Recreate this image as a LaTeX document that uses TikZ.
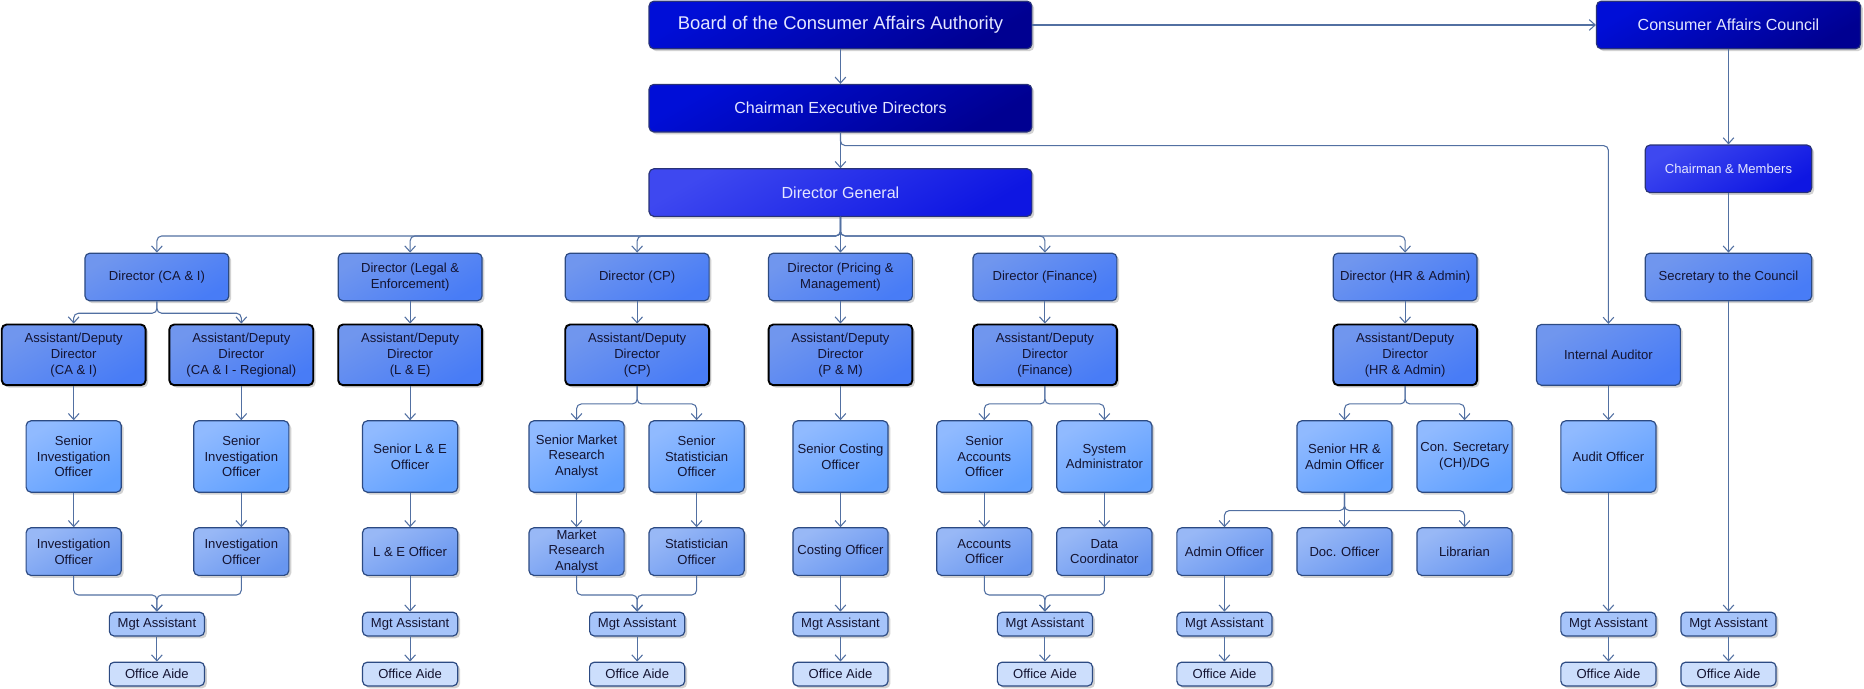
\documentclass[tikz,border=0pt]{standalone}
\usepackage{fontspec}
\setmainfont{Liberation Sans}
\usetikzlibrary{arrows.meta, positioning, shadows}
\definecolor{navydark}{RGB}{0,0,145}
\definecolor{navylight}{RGB}{0,14,215}
\definecolor{royaldark}{RGB}{14,22,226}
\definecolor{royallight}{RGB}{62,72,240}
\definecolor{dirdark}{RGB}{72,124,246}
\definecolor{dirlight}{RGB}{112,150,238}
\definecolor{srdark}{RGB}{96,160,255}
\definecolor{srlight}{RGB}{144,186,255}
\definecolor{offdark}{RGB}{104,150,240}
\definecolor{offlight}{RGB}{152,184,246}
\definecolor{mgtfill}{RGB}{166,196,250}
\definecolor{aidefill}{RGB}{204,222,252}
\definecolor{edge}{RGB}{44,74,130}
\definecolor{topedge}{RGB}{40,50,120}
\definecolor{wire}{RGB}{82,112,162}
\definecolor{inktext}{RGB}{20,20,50}
\definecolor{paletext}{RGB}{228,230,255}
\tikzset{
  box/.style={rectangle, rounded corners=4pt, draw=edge, line width=1pt,
              align=center, inner sep=1pt, text=inktext,
              font=\fontsize{11}{13.3}\selectfont,
              drop shadow={shadow xshift=2pt, shadow yshift=-2pt, fill=black!35, opacity=0.5}},
  headbox/.style={box, draw=topedge, text=paletext, minimum width=322pt, minimum height=40pt,
                  top color=navylight, bottom color=navydark, shading angle=30,
                  font=\fontsize{13.5}{16}\selectfont},
  royalbox/.style={box, draw=topedge, text=paletext, minimum height=40pt,
                   top color=royallight, bottom color=royaldark, shading angle=30,
                   font=\fontsize{13.5}{16}\selectfont},
  dirbox/.style={box, minimum width=121pt, minimum height=40pt,
                 top color=dirlight, bottom color=dirdark, shading angle=30},
  addbox/.style={dirbox, draw=black, line width=1.6pt, minimum height=51pt},
  seniorbox/.style={box, minimum width=80pt, minimum height=60pt,
                    top color=srlight, bottom color=srdark, shading angle=30},
  officerbox/.style={box, minimum width=80pt, minimum height=40pt,
                     top color=offlight, bottom color=offdark, shading angle=30},
  mgtbox/.style={box, minimum width=80pt, minimum height=20pt, fill=mgtfill},
  aidebox/.style={box, minimum width=80pt, minimum height=20pt, fill=aidefill},
  conn/.style={-{Straight Barb[length=5pt, width=9pt]}, draw=wire, line width=0.9pt,
               rounded corners=4pt},
}
\begin{document}
\begin{tikzpicture}[x=1pt, y=-1pt]
  \useasboundingbox (0,0) rectangle (1568,579);
  % top of the chart
  \node[headbox, font=\fontsize{15.5}{18}\selectfont] (board) at (707,21) {Board of the Consumer Affairs Authority};
  \node[headbox, minimum width=222pt] (council) at (1454,21) {Consumer Affairs Council};
  \node[headbox] (chair) at (707,91) {Chairman Executive Directors};
  \node[royalbox, minimum width=322pt] (dg) at (707,162) {Director General};
  \node[royalbox, minimum width=140pt, font=\fontsize{11}{13.3}\selectfont] (members) at (1454,142) {Chairman \& Members};
  \node[dirbox, minimum width=140pt] (secretary) at (1454,233) {Secretary to the Council};
  % directors
  \node[dirbox] (dirCAI) at (132,233) {Director (CA \& I)};
  \node[dirbox] (dirLE)  at (345,233) {Director (Legal \&\\Enforcement)};
  \node[dirbox] (dirCP)  at (536,233) {Director (CP)};
  \node[dirbox] (dirPM)  at (707,233) {Director (Pricing \&\\Management)};
  \node[dirbox] (dirFin) at (879,233) {Director (Finance)};
  \node[dirbox] (dirHR)  at (1182,233) {Director (HR \& Admin)};
  % assistant / deputy directors
  \node[addbox] (addCAI) at (62,298.5)   {Assistant/Deputy\\Director\\(CA \& I)};
  \node[addbox] (addReg) at (203,298.5)  {Assistant/Deputy\\Director\\(CA \& I - Regional)};
  \node[addbox] (addLE)  at (345,298.5)  {Assistant/Deputy\\Director\\(L \& E)};
  \node[addbox] (addCP)  at (536,298.5)  {Assistant/Deputy\\Director\\(CP)};
  \node[addbox] (addPM)  at (707,298.5)  {Assistant/Deputy\\Director\\(P \& M)};
  \node[addbox] (addFin) at (879,298.5)  {Assistant/Deputy\\Director\\(Finance)};
  \node[addbox] (addHR)  at (1182,298.5) {Assistant/Deputy\\Director\\(HR \& Admin)};
  \node[dirbox, minimum height=51pt] (intAud) at (1353,298.5) {Internal Auditor};
  % senior officers
  \node[seniorbox] (sinvA)  at (62,384)   {Senior\\Investigation\\Officer};
  \node[seniorbox] (sinvB)  at (203,384)  {Senior\\Investigation\\Officer};
  \node[seniorbox] (sLE)    at (345,384)  {Senior L \& E\\Officer};
  \node[seniorbox] (sMRA)   at (485,384)  {Senior Market\\Research\\Analyst};
  \node[seniorbox] (sStat)  at (586,384)  {Senior\\Statistician\\Officer};
  \node[seniorbox] (sCost)  at (707,384)  {Senior Costing\\Officer};
  \node[seniorbox] (sAcc)   at (828,384)  {Senior\\Accounts\\Officer};
  \node[seniorbox] (sysAdm) at (929,384)  {System\\Administrator};
  \node[seniorbox] (sHR)    at (1131,384) {Senior HR \&\\Admin Officer};
  \node[seniorbox] (conSec) at (1232,384) {Con. Secretary\\(CH)/DG};
  \node[seniorbox] (audOff) at (1353,384) {Audit Officer};
  % officers
  \node[officerbox] (invA)    at (62,464)   {Investigation\\Officer};
  \node[officerbox] (invB)    at (203,464)  {Investigation\\Officer};
  \node[officerbox] (leOff)   at (345,464)  {L \& E Officer};
  \node[officerbox] (mra)     at (485,464)  {Market\\Research\\Analyst};
  \node[officerbox] (statOff) at (586,464)  {Statistician\\Officer};
  \node[officerbox] (costOff) at (707,464)  {Costing Officer};
  \node[officerbox] (accOff)  at (828,464)  {Accounts\\Officer};
  \node[officerbox] (dataCo)  at (929,464)  {Data\\Coordinator};
  \node[officerbox] (admOff)  at (1030,464) {Admin Officer};
  \node[officerbox] (docOff)  at (1131,464) {Doc. Officer};
  \node[officerbox] (libr)    at (1232,464) {Librarian};
  % support staff
  \node[mgtbox] (mgtCAI) at (132,525)  {Mgt Assistant};
  \node[mgtbox] (mgtLE)  at (345,525)  {Mgt Assistant};
  \node[mgtbox] (mgtCP)  at (536,525)  {Mgt Assistant};
  \node[mgtbox] (mgtPM)  at (707,525)  {Mgt Assistant};
  \node[mgtbox] (mgtFin) at (879,525)  {Mgt Assistant};
  \node[mgtbox] (mgtHR)  at (1030,525) {Mgt Assistant};
  \node[mgtbox] (mgtAud) at (1353,525) {Mgt Assistant};
  \node[mgtbox] (mgtSec) at (1454,525) {Mgt Assistant};
  \node[aidebox, below=21pt of mgtCAI] (aideCAI) {Office Aide};
  \node[aidebox, below=21pt of mgtLE]  (aideLE)  {Office Aide};
  \node[aidebox, below=21pt of mgtCP]  (aideCP)  {Office Aide};
  \node[aidebox, below=21pt of mgtPM]  (aidePM)  {Office Aide};
  \node[aidebox, below=21pt of mgtFin] (aideFin) {Office Aide};
  \node[aidebox, below=21pt of mgtHR]  (aideHR)  {Office Aide};
  \node[aidebox, below=21pt of mgtAud] (aideAud) {Office Aide};
  \node[aidebox, below=21pt of mgtSec] (aideSec) {Office Aide};

  % board and council
  \draw[conn] (board) -- (council);
  \draw[conn] (board) -- (chair);
  \draw[conn] (chair) -- (dg);
  \draw[conn] (chair.south) -- ++(0,11) -| (intAud.north);
  \draw[conn] (council) -- (members);
  \draw[conn] (members) -- (secretary);
  \draw[conn] (secretary) -- (mgtSec);
  \draw[conn] (intAud) -- (audOff);
  \draw[conn] (audOff) -- (mgtAud);
  % director general to directors
  \draw[conn] (dg.south) -- ++(0,16) -| (dirCAI.north);
  \draw[conn] (dg.south) -- ++(0,16) -| (dirLE.north);
  \draw[conn] (dg.south) -- ++(0,16) -| (dirCP.north);
  \draw[conn] (dg.south) -- (dirPM.north);
  \draw[conn] (dg.south) -- ++(0,16) -| (dirFin.north);
  \draw[conn] (dg.south) -- ++(0,16) -| (dirHR.north);
  % directors to assistants
  \draw[conn] (dirCAI.south) -- ++(0,10) -| (addCAI.north);
  \draw[conn] (dirCAI.south) -- ++(0,10) -| (addReg.north);
  \draw[conn] (dirLE) -- (addLE);
  \draw[conn] (dirCP) -- (addCP);
  \draw[conn] (dirPM) -- (addPM);
  \draw[conn] (dirFin) -- (addFin);
  \draw[conn] (dirHR) -- (addHR);
  % assistants to senior officers
  \draw[conn] (addCAI) -- (sinvA);
  \draw[conn] (addReg) -- (sinvB);
  \draw[conn] (addLE) -- (sLE);
  \draw[conn] (addCP.south) -- ++(0,15) -| (sMRA.north);
  \draw[conn] (addCP.south) -- ++(0,15) -| (sStat.north);
  \draw[conn] (addPM) -- (sCost);
  \draw[conn] (addFin.south) -- ++(0,15) -| (sAcc.north);
  \draw[conn] (addFin.south) -- ++(0,15) -| (sysAdm.north);
  \draw[conn] (addHR.south) -- ++(0,15) -| (sHR.north);
  \draw[conn] (addHR.south) -- ++(0,15) -| (conSec.north);
  % senior officers to officers
  \draw[conn] (sinvA) -- (invA);
  \draw[conn] (sinvB) -- (invB);
  \draw[conn] (sLE) -- (leOff);
  \draw[conn] (sMRA) -- (mra);
  \draw[conn] (sStat) -- (statOff);
  \draw[conn] (sCost) -- (costOff);
  \draw[conn] (sAcc) -- (accOff);
  \draw[conn] (sysAdm) -- (dataCo);
  \draw[conn] (sHR.south) -- ++(0,15) -| (admOff.north);
  \draw[conn] (sHR) -- (docOff);
  \draw[conn] (sHR.south) -- ++(0,15) -| (libr.north);
  % officers to support staff
  \draw[conn] (invA.south) -- ++(0,16) -| (mgtCAI.north);
  \draw[conn] (invB.south) -- ++(0,16) -| (mgtCAI.north);
  \draw[conn] (leOff) -- (mgtLE);
  \draw[conn] (mra.south) -- ++(0,16) -| (mgtCP.north);
  \draw[conn] (statOff.south) -- ++(0,16) -| (mgtCP.north);
  \draw[conn] (costOff) -- (mgtPM);
  \draw[conn] (accOff.south) -- ++(0,16) -| (mgtFin.north);
  \draw[conn] (dataCo.south) -- ++(0,16) -| (mgtFin.north);
  \draw[conn] (admOff) -- (mgtHR);
  \draw[conn] (mgtCAI) -- (aideCAI);
  \draw[conn] (mgtLE) -- (aideLE);
  \draw[conn] (mgtCP) -- (aideCP);
  \draw[conn] (mgtPM) -- (aidePM);
  \draw[conn] (mgtFin) -- (aideFin);
  \draw[conn] (mgtHR) -- (aideHR);
  \draw[conn] (mgtAud) -- (aideAud);
  \draw[conn] (mgtSec) -- (aideSec);
\end{tikzpicture}
\end{document}
